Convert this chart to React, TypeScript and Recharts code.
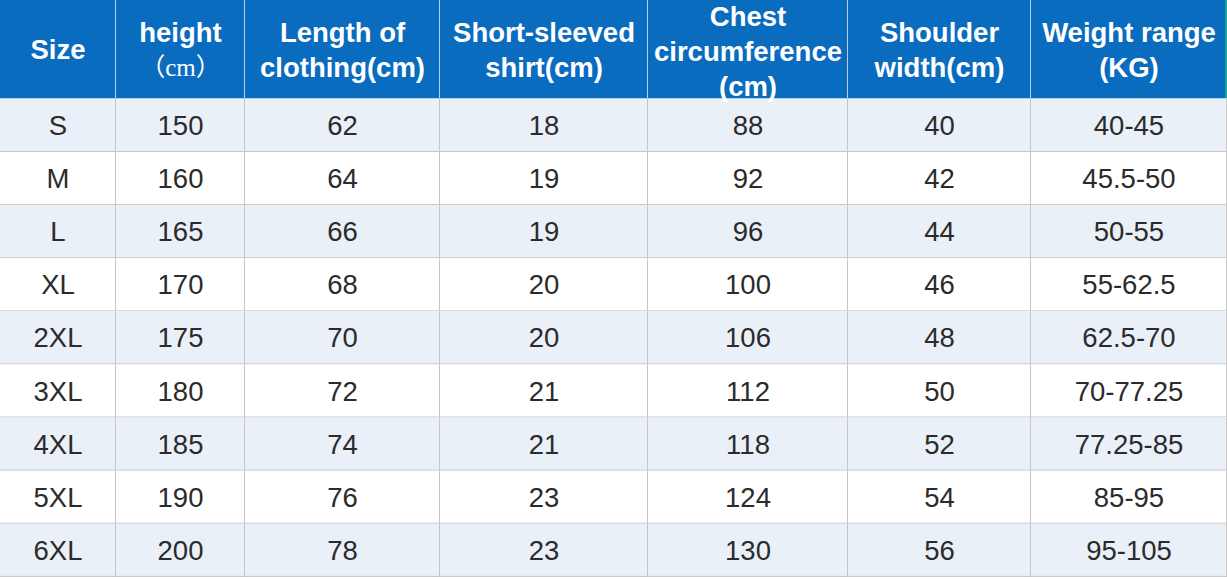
import { Bar, BarChart, XAxis, YAxis } from "recharts";

const SIZES = ["S", "M", "L", "XL", "2XL", "3XL", "4XL", "5XL", "6XL"];
const HEIGHTS = ["150", "160", "165", "170", "175", "180", "185", "190", "200"];
const LENGTHS = ["62", "64", "66", "68", "70", "72", "74", "76", "78"];
const SLEEVES = ["18", "19", "19", "20", "20", "21", "21", "23", "23"];
const CHESTS = ["88", "92", "96", "100", "106", "112", "118", "124", "130"];
const SHOULDERS = ["40", "42", "44", "46", "48", "50", "52", "54", "56"];
const WEIGHTS = ["40-45", "45.5-50", "50-55", "55-62.5", "62.5-70", "70-77.25", "77.25-85", "85-95", "95-105"];

const HEADERS: string[][] = [
  ["Size"],
  ["height", "（cm）"],
  ["Length of", "clothing(cm)"],
  ["Short-sleeved", "shirt(cm)"],
  ["Chest", "circumference", "(cm)"],
  ["Shoulder", "width(cm)"],
  ["Weight range", "(KG)"],
];

const COLUMNS = [SIZES, HEIGHTS, LENGTHS, SLEEVES, CHESTS, SHOULDERS, WEIGHTS];

// layout
const W = 1227;
const H = 579;
const HEADER_H = 99;
const COL_W = [116, 129, 195, 208, 200, 183, 196];
const COL_CENTERS = COL_W.map((w, i) => COL_W.slice(0, i).reduce((a, b) => a + b, 0) + w / 2);
const BLUE = "#0a6cbf";
const STRIPE = "#eaf0f8";
const GRID = "#c6c6c6";
const FONT = "'Liberation Sans', Arial, sans-serif";

const rows = SIZES.map((_, r) => {
  const row: Record<string, string> = {};
  COLUMNS.forEach((col, c) => (row[`c${c}`] = col[r]));
  return row;
});

function HeaderTick(props: any) {
  const { x, index } = props;
  const w = COL_W[index];
  const lines = HEADERS[index];
  const center = 49.5 + (lines.length === 3 ? 2 : 0);
  const gap = 35;
  const first = center - ((lines.length - 1) * gap) / 2;
  const last = index === COL_W.length - 1;
  return (
    <g>
      <rect x={x - w / 2} y={0} width={w} height={HEADER_H} fill={BLUE} />
      {!last && <line x1={x + w / 2 - 0.5} x2={x + w / 2 - 0.5} y1={0} y2={HEADER_H} stroke="#b9cfe6" strokeWidth={1} />}
      {last && <rect x={x + w / 2 - 2} y={0} width={2} height={HEADER_H} fill="#1aa39a" />}
      <line x1={x - w / 2} x2={x + w / 2} y1={HEADER_H - 0.5} y2={HEADER_H - 0.5} stroke="#b9cfe6" strokeWidth={1} />
      {lines.map((t, k) => {
        const cjk = t.startsWith("（");
        return (
          <text
            key={k}
            x={x}
            y={first + k * gap}
            textAnchor="middle"
            dominantBaseline="central"
            fill="#ffffff"
            fontFamily={cjk ? "'Liberation Serif', 'Noto Sans CJK SC', serif" : FONT}
            fontWeight={cjk ? 400 : 700}
            fontSize={cjk ? 25 : 27.5}
          >
            {t}
          </text>
        );
      })}
    </g>
  );
}

function BodyCell(props: any) {
  const { x, y, width, height, payload, index, col } = props;
  return (
    <g>
      <rect x={x} y={y} width={width} height={height} fill={index % 2 === 0 ? STRIPE : "#ffffff"} />
      <line x1={x} x2={x + width} y1={y + height - 0.5} y2={y + height - 0.5} stroke={GRID} strokeWidth={1} />
      <line x1={x + width - 0.5} x2={x + width - 0.5} y1={y} y2={y + height} stroke={GRID} strokeWidth={1} />
      <text
        x={x + width / 2}
        y={y + height / 2}
        textAnchor="middle"
        dominantBaseline="central"
        fill="#2b2b2b"
        fontFamily={FONT}
        fontSize={27.5}
      >
        {payload[`c${col}`]}
      </text>
    </g>
  );
}

export default function App() {
  return (
    <div style={{ width: W, height: H, background: "#ffffff" }}>
      <style>{`body{margin:0}`}</style>
      <BarChart
        width={W}
        height={H}
        data={rows}
        layout="vertical"
        margin={{ top: 0, right: 0, bottom: 2, left: 0 }}
        barCategoryGap={0}
        barGap={0}
      >
        <XAxis
          type="number"
          orientation="top"
          domain={[0, W]}
          ticks={COL_CENTERS}
          interval={0}
          height={HEADER_H}
          axisLine={false}
          tickLine={false}
          tickSize={0}
          tickMargin={0}
          tick={(p: any) => <HeaderTick {...p} />}
        />
        <YAxis type="category" dataKey="c0" hide />
        {COL_W.map((w, i) => (
          <Bar
            key={i}
            dataKey={() => w}
            stackId="table"
            isAnimationActive={false}
            shape={(p: any) => <BodyCell {...p} col={i} />}
          />
        ))}
      </BarChart>
    </div>
  );
}
